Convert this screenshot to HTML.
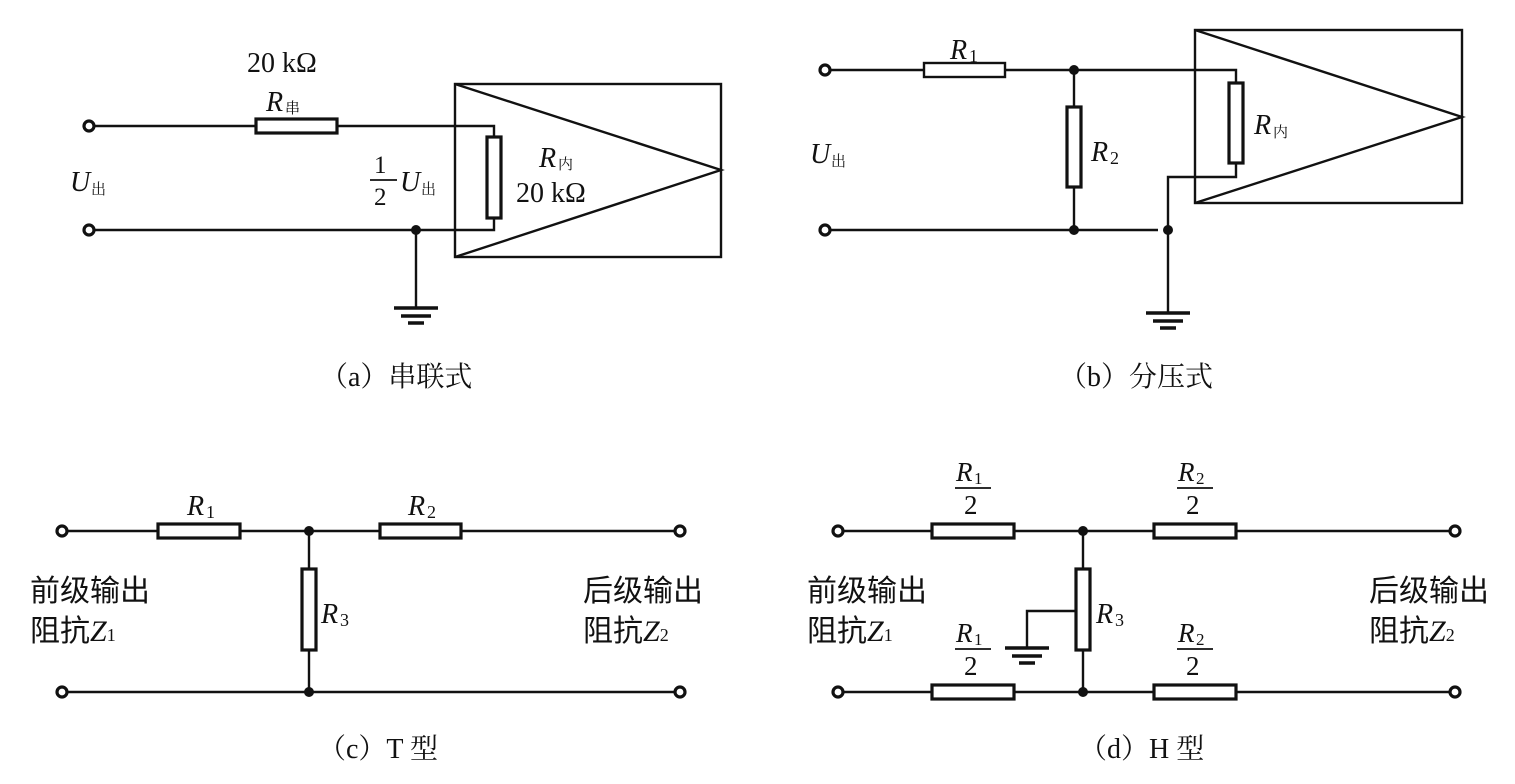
<!DOCTYPE html>
<html><head><meta charset="utf-8"><style>
html,body{margin:0;padding:0;background:#fff;}
svg{display:block}
.t{font-family:"Liberation Serif","Noto Serif CJK SC",serif;fill:#111}
.i{font-style:italic}
.c{font-family:"Liberation Sans","Noto Sans CJK SC",sans-serif;fill:#111}
</style></head><body>
<svg width="1515" height="784" viewBox="0 0 1515 784" xmlns="http://www.w3.org/2000/svg">
<g stroke="#111" stroke-width="2.4" fill="none">
<!-- (a) -->
<line x1="94" y1="126" x2="256" y2="126"/><rect x="256" y="119" width="81" height="14" stroke-width="3.2" fill="#fff"/>
<polyline points="337,126 494,126 494,137"/>
<rect x="487" y="137" width="14" height="81" stroke-width="3.2" fill="#fff"/>
<polyline points="494,218 494,230 94,230"/>
<line x1="416" y1="230" x2="416" y2="308"/>
<line x1="394" y1="308" x2="438" y2="308" stroke-width="3.5"/>
<line x1="401" y1="316" x2="431" y2="316" stroke-width="3.5"/>
<line x1="408" y1="323" x2="424" y2="323" stroke-width="3.5"/>
<rect x="455" y="84" width="266" height="173"/>
<polyline points="455,84 721,170 455,257"/>
<circle cx="89" cy="126" r="5" stroke-width="3.2" fill="#fff"/>
<circle cx="89" cy="230" r="5" stroke-width="3.2" fill="#fff"/>
<!-- (b) -->
<line x1="830" y1="70" x2="924" y2="70"/><rect x="924" y="63" width="81" height="14" fill="#fff"/>
<polyline points="1005,70 1236,70 1236,83"/>
<rect x="1229" y="83" width="14" height="80" stroke-width="3.2" fill="#fff"/>
<polyline points="1236,163 1236,177 1168,177 1168,313"/>
<line x1="1074" y1="70" x2="1074" y2="107"/>
<rect x="1067" y="107" width="14" height="80" stroke-width="3.2" fill="#fff"/>
<line x1="1074" y1="187" x2="1074" y2="230"/>
<line x1="830" y1="230" x2="1158" y2="230"/>
<line x1="1146" y1="313" x2="1190" y2="313" stroke-width="3.5"/>
<line x1="1153" y1="321" x2="1183" y2="321" stroke-width="3.5"/>
<line x1="1160" y1="328" x2="1176" y2="328" stroke-width="3.5"/>
<rect x="1195" y="30" width="267" height="173"/>
<polyline points="1195,30 1462,117 1195,203"/>
<circle cx="825" cy="70" r="5" stroke-width="3.2" fill="#fff"/>
<circle cx="825" cy="230" r="5" stroke-width="3.2" fill="#fff"/>
<!-- (c) -->
<line x1="67" y1="531" x2="676" y2="531"/>
<line x1="67" y1="692" x2="676" y2="692"/>
<rect x="158" y="524" width="82" height="14" stroke-width="3.2" fill="#fff"/>
<rect x="380" y="524" width="81" height="14" stroke-width="3.2" fill="#fff"/>
<line x1="309" y1="531" x2="309" y2="692"/>
<rect x="302" y="569" width="14" height="81" stroke-width="3.2" fill="#fff"/>
<circle cx="62" cy="531" r="5" stroke-width="3.2" fill="#fff"/>
<circle cx="62" cy="692" r="5" stroke-width="3.2" fill="#fff"/>
<circle cx="680" cy="531" r="5" stroke-width="3.2" fill="#fff"/>
<circle cx="680" cy="692" r="5" stroke-width="3.2" fill="#fff"/>
<!-- (d) -->
<line x1="843" y1="531" x2="1450" y2="531"/>
<line x1="843" y1="692" x2="1450" y2="692"/>
<rect x="932" y="524" width="82" height="14" stroke-width="3.2" fill="#fff"/>
<rect x="1154" y="524" width="82" height="14" stroke-width="3.2" fill="#fff"/>
<rect x="932" y="685" width="82" height="14" stroke-width="3.2" fill="#fff"/>
<rect x="1154" y="685" width="82" height="14" stroke-width="3.2" fill="#fff"/>
<line x1="1083" y1="531" x2="1083" y2="692"/>
<rect x="1076" y="569" width="14" height="81" stroke-width="3.2" fill="#fff"/>
<polyline points="1076,611 1027,611 1027,648"/>
<line x1="1005" y1="648" x2="1049" y2="648" stroke-width="3.5"/>
<line x1="1012" y1="656" x2="1042" y2="656" stroke-width="3.5"/>
<line x1="1019" y1="663" x2="1035" y2="663" stroke-width="3.5"/>
<circle cx="838" cy="531" r="5" stroke-width="3.2" fill="#fff"/>
<circle cx="838" cy="692" r="5" stroke-width="3.2" fill="#fff"/>
<circle cx="1455" cy="531" r="5" stroke-width="3.2" fill="#fff"/>
<circle cx="1455" cy="692" r="5" stroke-width="3.2" fill="#fff"/>
<!-- fraction bars -->
<line x1="955" y1="488" x2="991" y2="488" stroke-width="1.8"/>
<line x1="1177" y1="488" x2="1213" y2="488" stroke-width="1.8"/>
<line x1="955" y1="649" x2="991" y2="649" stroke-width="1.8"/>
<line x1="1177" y1="649" x2="1213" y2="649" stroke-width="1.8"/>
<line x1="370" y1="180" x2="397" y2="180" stroke-width="1.8"/>
</g>
<g fill="#111">
<circle cx="416" cy="230" r="5"/>
<circle cx="1074" cy="70" r="5"/><circle cx="1074" cy="230" r="5"/><circle cx="1168" cy="230" r="5"/>
<circle cx="309" cy="531" r="5"/><circle cx="309" cy="692" r="5"/>
<circle cx="1083" cy="531" r="5"/><circle cx="1083" cy="692" r="5"/>
</g>
<!-- labels (a) -->
<text class="t" x="247" y="72" font-size="28">20 kΩ</text>
<text class="t i" x="266" y="111" font-size="28">R</text><text class="t" x="285" y="113" font-size="15">串</text>
<text class="t i" x="70" y="191" font-size="28">U</text><text class="t" x="91" y="194" font-size="15">出</text>
<text class="t" x="374" y="173" font-size="25">1</text><text class="t" x="374" y="205" font-size="25">2</text>
<text class="t i" x="400" y="191" font-size="28">U</text><text class="t" x="421" y="194" font-size="15">出</text>
<text class="t i" x="539" y="167" font-size="28">R</text><text class="t" x="558" y="169" font-size="15">内</text>
<text class="t" x="516" y="202" font-size="28">20 kΩ</text>
<text class="t" x="320" y="386" font-size="28">（a）串联式</text>
<!-- (b) -->
<text class="t i" x="950" y="59" font-size="28">R</text><text class="t" x="969" y="62" font-size="18">1</text>
<text class="t i" x="1091" y="161" font-size="28">R</text><text class="t" x="1110" y="164" font-size="18">2</text>
<text class="t i" x="810" y="163" font-size="28">U</text><text class="t" x="831" y="166" font-size="15">出</text>
<text class="t i" x="1254" y="134" font-size="28">R</text><text class="t" x="1273" y="137" font-size="15">内</text>
<text class="t" x="1059" y="386" font-size="28">（b）分压式</text>
<!-- (c) -->
<text class="t i" x="187" y="515" font-size="28">R</text><text class="t" x="206" y="518" font-size="18">1</text>
<text class="t i" x="408" y="515" font-size="28">R</text><text class="t" x="427" y="518" font-size="18">2</text>
<text class="t i" x="321" y="623" font-size="28">R</text><text class="t" x="340" y="626" font-size="18">3</text>
<text class="c" x="30" y="601" font-size="30">前级输出</text>
<text class="c" x="30" y="641" font-size="30">阻抗<tspan class="t i">Z</tspan><tspan class="t" font-size="18">1</tspan></text>
<text class="c" x="583" y="601" font-size="30">后级输出</text>
<text class="c" x="583" y="641" font-size="30">阻抗<tspan class="t i">Z</tspan><tspan class="t" font-size="18">2</tspan></text>
<text class="t" x="318" y="758" font-size="28">（c）T 型</text>
<!-- (d) -->
<text class="t i" x="956" y="481" font-size="27">R</text><text class="t" x="974" y="484" font-size="17">1</text>
<text class="t" x="964" y="514" font-size="27">2</text>
<text class="t i" x="1178" y="481" font-size="27">R</text><text class="t" x="1196" y="484" font-size="17">2</text>
<text class="t" x="1186" y="514" font-size="27">2</text>
<text class="t i" x="956" y="642" font-size="27">R</text><text class="t" x="974" y="645" font-size="17">1</text>
<text class="t" x="964" y="675" font-size="27">2</text>
<text class="t i" x="1178" y="642" font-size="27">R</text><text class="t" x="1196" y="645" font-size="17">2</text>
<text class="t" x="1186" y="675" font-size="27">2</text>
<text class="t i" x="1096" y="623" font-size="28">R</text><text class="t" x="1115" y="626" font-size="18">3</text>
<text class="c" x="807" y="601" font-size="30">前级输出</text>
<text class="c" x="807" y="641" font-size="30">阻抗<tspan class="t i">Z</tspan><tspan class="t" font-size="18">1</tspan></text>
<text class="c" x="1369" y="601" font-size="30">后级输出</text>
<text class="c" x="1369" y="641" font-size="30">阻抗<tspan class="t i">Z</tspan><tspan class="t" font-size="18">2</tspan></text>
<text class="t" x="1079" y="758" font-size="28">（d）H 型</text>
</svg>
</body></html>
